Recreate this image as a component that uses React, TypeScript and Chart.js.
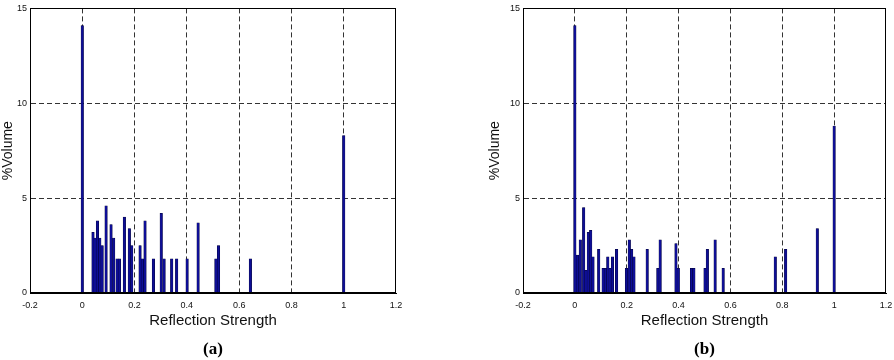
import React, { useEffect, useRef } from 'react';
import { Chart, registerables } from 'chart.js';

Chart.register(...registerables);

// Axis ticks
const xTickValues = [-0.2, 0, 0.2, 0.4, 0.6, 0.8, 1, 1.2];
const xTickLabels = ['-0.2', '0', '0.2', '0.4', '0.6', '0.8', '1', '1.2'];
const yTickValues = [0, 5, 10, 15];
const yTickLabels = ['0', '5', '10', '15'];

const xTitle = 'Reflection Strength';
const yTitle = '%Volume';
const captionA = '(a)';
const captionB = '(b)';

// Panel (a)
const strengthA = [
  0.0, 0.041, 0.049, 0.058, 0.067, 0.076, 0.091, 0.11, 0.12, 0.133, 0.142,
  0.161, 0.18, 0.189, 0.221, 0.23, 0.24, 0.272, 0.302, 0.313, 0.342, 0.361,
  0.401, 0.443, 0.511, 0.521, 0.643, 1.0,
];
const volumeA = [
  14.1, 3.2, 2.9, 3.8, 2.9, 2.5, 4.6, 3.6, 2.9, 1.8, 1.8,
  4.0, 3.4, 2.5, 2.5, 1.8, 3.8, 1.8, 4.2, 1.8, 1.8, 1.8,
  1.8, 3.7, 1.8, 2.5, 1.8, 8.3,
];

// Panel (b)
const strengthB = [
  0.0, 0.01, 0.021, 0.034, 0.043, 0.052, 0.061, 0.07, 0.092, 0.109, 0.118,
  0.127, 0.136, 0.145, 0.161, 0.199, 0.21, 0.219, 0.228, 0.279, 0.32, 0.329,
  0.39, 0.399, 0.45, 0.459, 0.502, 0.511, 0.541, 0.572, 0.773, 0.813, 0.935, 1.0,
];
const volumeB = [
  14.1, 2.0, 2.8, 4.5, 1.2, 3.2, 3.3, 1.9, 2.3, 1.3, 1.3,
  1.9, 1.3, 1.9, 2.3, 1.3, 2.8, 2.3, 1.9, 2.3, 1.3, 2.8,
  2.6, 1.3, 1.3, 1.3, 1.3, 2.3, 2.8, 1.3, 1.9, 2.3, 3.4, 8.8,
];

const SANS = "'Liberation Sans', Arial, sans-serif";
const SERIF = "'Liberation Serif', 'Times New Roman', serif";

const boxPlugin = {
  id: 'boxPlugin',
  afterDraw(chart: any) {
    const { ctx, chartArea } = chart;
    ctx.save();
    ctx.strokeStyle = '#000';
    ctx.lineWidth = 1;
    ctx.setLineDash([]);
    const l = Math.round(chartArea.left) + 0.5;
    const t = Math.round(chartArea.top) + 0.5;
    const r = Math.round(chartArea.right) - 0.5;
    const b = Math.round(chartArea.bottom) - 0.5;
    ctx.strokeRect(l, t, r - l, b - t);
    ctx.restore();
  },
};

function labelFor(values: number[], labels: string[], v: number) {
  const i = values.findIndex((t) => Math.abs(t - v) < 1e-9);
  return i >= 0 ? labels[i] : '';
}

function gridColor(count: number) {
  return (c: any) => (c.index === 0 || c.index === count - 1 ? 'rgba(0,0,0,0)' : '#333');
}

type PanelProps = {
  strengths: number[];
  volumes: number[];
  left: number;
  width: number;
  yAxisWidth: number;
  padRight: number;
  plotRight: number;
  caption: string;
};

function Panel({ strengths, volumes, left, width, yAxisWidth, padRight, plotRight, caption }: PanelProps) {
  const ref = useRef<HTMLCanvasElement | null>(null);
  const height = 340;

  useEffect(() => {
    if (!ref.current) return;
    const chart = new Chart(ref.current, {
      type: 'bar',
      data: {
        datasets: [
          {
            data: strengths.map((x, i) => ({ x, y: volumes[i] })),
            backgroundColor: '#0e0e96',
            borderColor: '#000033',
            borderWidth: 0.5,
            barThickness: 2.5,
          } as any,
        ],
      },
      options: {
        responsive: false,
        animation: false,
        events: [],
        layout: { padding: { left: 0, top: 6, right: padRight, bottom: 0 } },
        plugins: {
          legend: { display: false },
          tooltip: { enabled: false },
          title: { display: false },
        },
        scales: {
          x: {
            type: 'linear',
            min: -0.2,
            max: 1.2,
            offset: false,
            afterBuildTicks: (s: any) => {
              s.ticks = xTickValues.map((v) => ({ value: v }));
            },
            afterFit: (s: any) => {
              s.height = 47;
            },
            grid: { color: gridColor(xTickValues.length), lineWidth: 1, drawTicks: false, offset: false },
            border: { display: true, color: '#000', dash: [5, 3] },
            ticks: {
              autoSkip: false,
              maxRotation: 0,
              padding: 7,
              color: '#111',
              font: { family: SANS, size: 9 },
              callback: (v: any) => labelFor(xTickValues, xTickLabels, Number(v)),
            },
            title: {
              display: true,
              text: xTitle,
              color: '#111',
              font: { family: SANS, size: 15 },
              padding: { top: 0, bottom: 10 },
            },
          },
          y: {
            type: 'linear',
            min: 0,
            max: 15,
            afterBuildTicks: (s: any) => {
              s.ticks = yTickValues.map((v) => ({ value: v }));
            },
            afterFit: (s: any) => {
              s.width = yAxisWidth;
            },
            grid: { color: gridColor(yTickValues.length), lineWidth: 1, drawTicks: false },
            border: { display: true, color: '#000', dash: [5, 3] },
            ticks: {
              padding: 3,
              color: '#111',
              font: { family: SANS, size: 9 },
              callback: (v: any) => labelFor(yTickValues, yTickLabels, Number(v)),
            },
            title: {
              display: true,
              text: yTitle,
              color: '#111',
              font: { family: SANS, size: 14 },
              padding: { top: 0, bottom: 0 },
            },
          },
        },
      } as any,
      plugins: [boxPlugin],
    });
    return () => chart.destroy();
  }, []);

  const plotLeft = left + yAxisWidth;

  return (
    <>
      <canvas
        ref={ref}
        width={width}
        height={height}
        style={{ position: 'absolute', left, top: 0, width, height }}
      />
      <div
        style={{
          position: 'absolute',
          left: plotLeft,
          width: plotRight - plotLeft,
          top: 339,
          height: 20,
          lineHeight: '20px',
          textAlign: 'center',
          fontFamily: SERIF,
          fontWeight: 'bold',
          fontSize: 17,
          color: '#000',
        }}
      >
        {caption}
      </div>
    </>
  );
}

export default function App() {
  return (
    <div
      style={{
        position: 'absolute',
        left: 0,
        top: 0,
        width: 894,
        height: 360,
        background: '#fff',
        overflow: 'hidden',
      }}
    >
      <Panel
        strengths={strengthA}
        volumes={volumeA}
        left={0}
        width={447}
        yAxisWidth={30}
        padRight={51}
        plotRight={396}
        caption={captionA}
      />
      <Panel
        strengths={strengthB}
        volumes={volumeB}
        left={487}
        width={413}
        yAxisWidth={36}
        padRight={14}
        plotRight={886}
        caption={captionB}
      />
    </div>
  );
}
